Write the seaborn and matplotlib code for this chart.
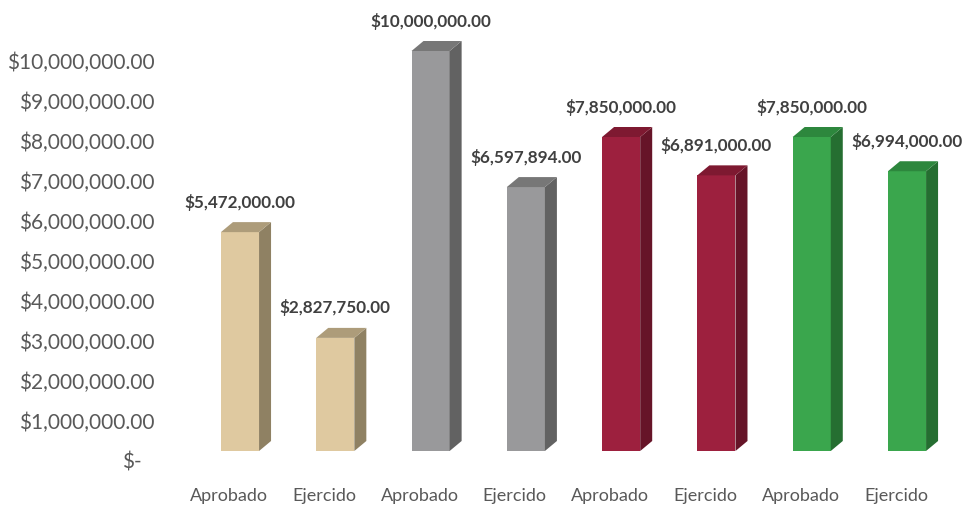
import matplotlib
matplotlib.use("Agg")
import matplotlib.pyplot as plt
import matplotlib.transforms as mtransforms
from matplotlib.patches import Polygon
import seaborn as sns
import pandas as pd

# ---- data ----
categories = ["Aprobado", "Ejercido", "Aprobado", "Ejercido",
              "Aprobado", "Ejercido", "Aprobado", "Ejercido"]
values = [5472000, 2827750, 10000000, 6597894, 7850000, 6891000, 7850000, 6994000]
front_colors = ["#DFC9A0", "#DFC9A0", "#99999B", "#99999B",
                "#9D203E", "#9D203E", "#3AA64D", "#3AA64D"]
side_colors = ["#8F8163", "#8F8163", "#626262", "#626262",
               "#661428", "#661428", "#256E31", "#256E31"]
top_colors = ["#AD9C7A", "#AD9C7A", "#777777", "#777777",
              "#7E1931", "#7E1931", "#2D873D", "#2D873D"]
y_ticks = list(range(0, 10000001, 1000000))

def money(v):
    return "$-" if v == 0 else "${:,.2f}".format(v)

sns.set_theme(style="white")
plt.rcParams['font.family'] = ['Lato', 'DejaVu Sans']

W, H = 965, 510
fig = plt.figure(figsize=(W / 100, H / 100), dpi=100)
# axes in pixel terms: left 160, right 960, bottom 452 (from top), top 10
ax = fig.add_axes([160 / W, (H - 452) / H, 800 / W, 442 / H])

df = pd.DataFrame({"pos": [str(i) for i in range(len(values))], "value": values})
sns.barplot(data=df, x="pos", y="value", hue="pos", palette=front_colors,
            legend=False, width=0.4, ax=ax, saturation=1, edgecolor="none")

px_per_unit_x = 95.3
ax.set_xlim(-80 / px_per_unit_x, 7 + 53 / px_per_unit_x)
ax.set_ylim(0, 10000000 + 42 * 25000)

fig.canvas.draw()
inv = ax.transData.inverted()
p0 = inv.transform((0, 0))
p1 = inv.transform((12, 10))
dx, dy = p1[0] - p0[0], p1[1] - p0[1]
lab = inv.transform((0, 31))
lab_dy = lab[1] - p0[1]

for i, patch in enumerate(ax.patches[:len(values)]):
    x0 = patch.get_x()
    w = patch.get_width()
    h = patch.get_height()
    x1 = x0 + w
    side = Polygon([(x1, 0), (x1 + dx, dy), (x1 + dx, h + dy), (x1, h)],
                   closed=True, facecolor=side_colors[i], edgecolor="none")
    top = Polygon([(x0, h), (x1, h), (x1 + dx, h + dy), (x0 + dx, h + dy)],
                  closed=True, facecolor=top_colors[i], edgecolor="none")
    ax.add_patch(side)
    ax.add_patch(top)
    ax.text(x0 + w / 2, h + lab_dy, money(values[i]), ha="center", va="center",
            fontsize=12.3, fontweight="bold", color="#404040", clip_on=False)

ax.set_yticks(y_ticks)
ax.set_yticklabels([money(v) for v in y_ticks], fontsize=15, color="#595959")
ax.set_xticks(range(len(categories)))
ax.set_xticklabels(categories, fontsize=13, color="#595959")
ax.tick_params(axis="y", length=0, pad=4)
ax.tick_params(axis="x", length=0, pad=26)

yoff = mtransforms.ScaledTranslation(0, -9 / 100, fig.dpi_scale_trans)
zoff = mtransforms.ScaledTranslation(-13 / 100, -9 / 100, fig.dpi_scale_trans)
for t, v in zip(ax.get_yticklabels(), y_ticks):
    t.set_transform(t.get_transform() + (zoff if v == 0 else yoff))
xoff = mtransforms.ScaledTranslation(-11 / 100, 0, fig.dpi_scale_trans)
for t in ax.get_xticklabels():
    t.set_transform(t.get_transform() + xoff)

ax.set_xlabel("")
ax.set_ylabel("")
for s in ax.spines.values():
    s.set_visible(False)
ax.grid(False)

fig.savefig("out.png", dpi=100)
